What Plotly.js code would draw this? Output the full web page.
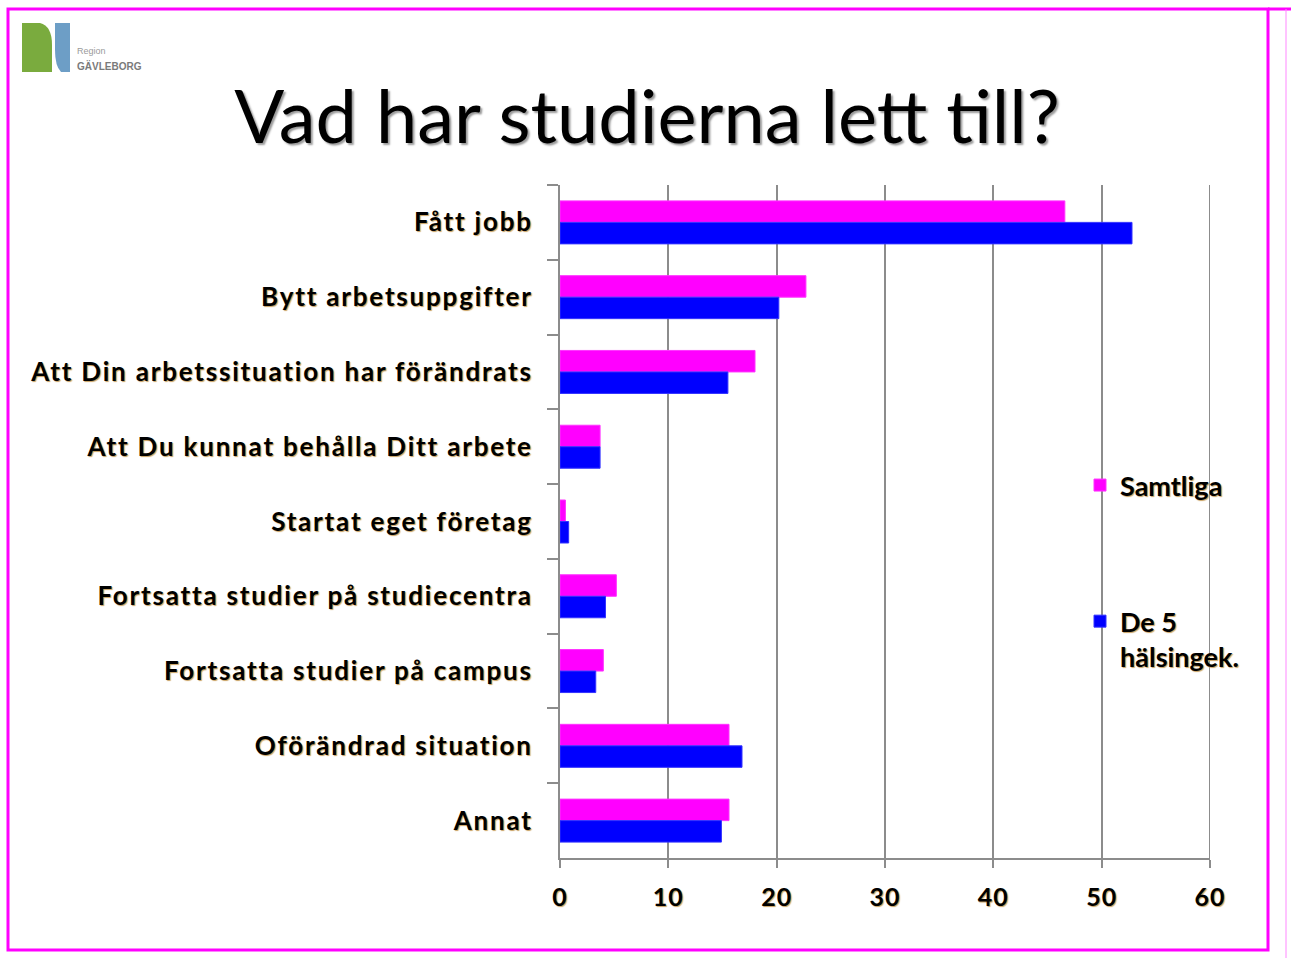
<!DOCTYPE html>
<html>
<head>
<meta charset="utf-8">
<script src="https://cdn.plot.ly/plotly-3.0.1.min.js"></script>
<style>
  html, body { margin: 0; padding: 0; background: #fff; }
  #chart { width: 1291px; height: 958px; }
  #chart .ytick text { letter-spacing: 1.8px; }
  #chart .xtick text { letter-spacing: 1px; }
</style>
</head>
<body>
<div id="chart"></div>
<script>
// ---- data ----
const categories = [
  "Fått jobb",
  "Bytt arbetsuppgifter",
  "Att Din arbetssituation har förändrats",
  "Att Du kunnat behålla Ditt arbete",
  "Startat eget företag",
  "Fortsatta studier på studiecentra",
  "Fortsatta studier på campus",
  "Oförändrad situation",
  "Annat"
];
const samtliga = [46.6, 22.7, 18.0, 3.7, 0.5, 5.2, 4.0, 15.6, 15.6];
const de5 = [52.8, 20.2, 15.5, 3.7, 0.8, 4.2, 3.3, 16.8, 14.9];
const seriesNames = ["Samtliga", "De 5<br>hälsingek."];
const xTicks = [0, 10, 20, 30, 40, 50, 60];
const xMax = 60;

// ---- layout helpers (pixel -> paper) ----
const L = 560, R = 1210, T = 185, B = 858;
const W = 1291, H = 958;
const px = x => (x - L) / (R - L);
const py = y => (B - y) / (B - T);

const fontFam = "Lato, 'Open Sans', sans-serif";
const gray = "#8c8c8c";
const labelShadow = "1px 1px 1px #c8a060";

const traces = [
  {
    type: "bar", orientation: "h",
    name: seriesNames[0], legendgroup: "a",
    y: categories, x: samtliga,
    marker: { color: "#ff00ff", line: { color: "#ff33ff", width: 1 } },
    hoverinfo: "x+y"
  },
  {
    type: "bar", orientation: "h",
    name: seriesNames[1], legendgroup: "b",
    y: categories, x: de5,
    marker: { color: "#0000ff", line: { color: "#3333ff", width: 1 } },
    hoverinfo: "x+y"
  }
];

function pathOf(pts) {
  return pts.map((p, i) => (p[0] === "Q"
    ? "Q" + px(p[1]) + "," + py(p[2]) + " " + px(p[3]) + "," + py(p[4])
    : (i === 0 ? "M" : "L") + px(p[0]) + "," + py(p[1]))).join(" ") + " Z";
}

const shapes = [
  // gridline at the range end (Plotly skips grid at the edge)
  { type: "line", xref: "x", yref: "paper", layer: "below",
    x0: xMax, x1: xMax, y0: 0, y1: 1,
    line: { color: gray, width: 2 } },
  // slide frame
  { type: "rect", xref: "paper", yref: "paper", layer: "above",
    x0: px(8), x1: px(1268), y0: py(950), y1: py(9),
    line: { color: "#ff00ff", width: 3 }, fillcolor: "rgba(0,0,0,0)" },
  { type: "line", xref: "paper", yref: "paper", layer: "above",
    x0: px(1268), x1: px(1291), y0: py(9), y1: py(9),
    line: { color: "#ff00ff", width: 3 } },
  { type: "line", xref: "paper", yref: "paper", layer: "above",
    x0: px(1286), x1: px(1286), y0: py(9), y1: py(958),
    line: { color: "#ff88ff", width: 1 } },
  // logo
  { type: "path", xref: "paper", yref: "paper",
    path: pathOf([[22, 23], [40, 23], ["Q", 52, 26, 52, 45], [52, 72], [22, 72]]),
    fillcolor: "#7aab3e", line: { width: 0 } },
  { type: "path", xref: "paper", yref: "paper",
    path: pathOf([[55, 23], [70, 23], [70, 72], [61, 72], ["Q", 55, 66, 55, 50]]),
    fillcolor: "#6d9ec6", line: { width: 0 } }
];

const annotations = [
  { text: "Region", xref: "paper", yref: "paper", x: px(75), y: py(51),
    xanchor: "left", yanchor: "middle", showarrow: false,
    font: { family: "'Liberation Sans', Arial, sans-serif", size: 9, color: "#9a9a9a" } },
  { text: "<b>GÄVLEBORG</b>", xref: "paper", yref: "paper", x: px(75), y: py(66),
    xanchor: "left", yanchor: "middle", showarrow: false,
    font: { family: "'Liberation Sans Narrow', 'Liberation Sans', Arial, sans-serif", size: 10, color: "#7a7a7a" } }
];

const layout = {
  width: W, height: H,
  paper_bgcolor: "#ffffff", plot_bgcolor: "#ffffff",
  margin: { l: L, r: W - R, t: T, b: H - B, pad: 0 },
  title: {
    text: "Vad har studierna lett till?",
    xref: "container", yref: "container",
    x: 647 / W, y: 1 - 117 / H, xanchor: "center", yanchor: "middle",
    font: { family: fontFam, size: 74, color: "#000", shadow: "2px 2px 2px #9a9a9a" }
  },
  barmode: "group",
  bargap: 0.425,
  bargroupgap: 0,
  xaxis: {
    range: [0, xMax], tickvals: xTicks, ticktext: xTicks.map(String),
    showgrid: true, gridcolor: gray, gridwidth: 2,
    zeroline: false,
    showline: true, linecolor: gray, linewidth: 2,
    ticks: "outside", ticklen: 8, tickcolor: gray, tickwidth: 2,
    ticklabelstandoff: 8,
    tickfont: { family: fontFam, size: 25, color: "#000", weight: 700, shadow: labelShadow },
    fixedrange: true
  },
  yaxis: {
    type: "category", autorange: "reversed",
    showgrid: false, zeroline: false,
    showline: true, linecolor: gray, linewidth: 2,
    ticks: "outside", tickson: "boundaries", ticklen: 11, tickcolor: gray, tickwidth: 2,
    ticklabelstandoff: 20,
    tickfont: { family: fontFam, size: 26, color: "#000", weight: 700, shadow: labelShadow },
    fixedrange: true
  },
  showlegend: true,
  legend: {
    x: px(1080), y: py(461), xanchor: "left", yanchor: "top",
    bgcolor: "rgba(0,0,0,0)", borderwidth: 0,
    tracegroupgap: 98, traceorder: "grouped", valign: "top",
    font: { family: fontFam, size: 27, color: "#000", weight: 700, shadow: labelShadow }
  },
  shapes: shapes,
  annotations: annotations
};

Plotly.newPlot("chart", traces, layout, { displayModeBar: false, staticPlot: false });
</script>
</body>
</html>
